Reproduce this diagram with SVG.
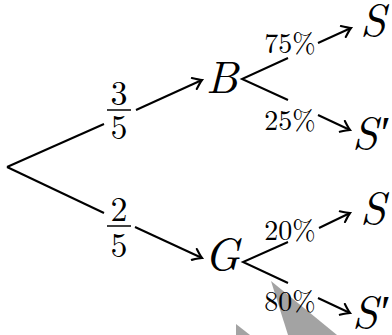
<svg xmlns="http://www.w3.org/2000/svg" width="392" height="335" viewBox="0 0 392 335">
  <style>
    .edge { stroke: #000; stroke-width: 2; fill: none; }
    .arrow { marker-end: url(#tip); }
    text { font-family: 'Latin Modern Roman', 'CMU Serif', 'Liberation Serif', 'DejaVu Serif', serif; fill: #000; text-anchor: middle; }
    .node { font-style: italic; font-size: 46px; }
    .frac { font-size: 34px; }
    .pct { font-size: 28px; }
    .bar { stroke: #000; stroke-width: 1.5; }
    .shade { fill: #a3a3a3; }
  </style>
  <defs>
    <marker id="tip" markerUnits="userSpaceOnUse" markerWidth="14" markerHeight="14" viewBox="-9 -7 11 14" refX="0" refY="0" orient="auto">
      <path d="M-8.5,-6 Q-2.5,-1.3 0,0 Q-2.5,1.3 -8.5,6" stroke="#000" stroke-width="2.1" fill="none" stroke-linecap="round"/>
    </marker>
  </defs>

  <rect width="392" height="335" fill="#fff"/>

  <!-- grey wedges at the bottom, under everything else -->
  <polygon class="shade" points="271,281 288,335 337,335"/>
  <polygon class="shade" points="236,324 236,335 250,335"/>

  <!-- connectors -->
  <g id="connectors">
    <!-- root to B, broken around its label -->
    <line class="edge" x1="7" y1="167" x2="104" y2="124"/>
    <line class="edge arrow" x1="136" y1="110" x2="202" y2="80"/>
    <!-- root to G -->
    <line class="edge" x1="7" y1="167" x2="104" y2="213"/>
    <line class="edge arrow" x1="135" y1="227" x2="202" y2="258"/>
    <!-- B splits -->
    <polyline class="edge" points="288,58 242,79 288,100"/>
    <line class="edge arrow" x1="318" y1="43" x2="351" y2="28"/>
    <line class="edge arrow" x1="318" y1="115" x2="350" y2="130"/>
    <!-- G splits -->
    <polyline class="edge" points="288,242 243,262 288,283"/>
    <line class="edge arrow" x1="319" y1="228" x2="350" y2="213"/>
    <line class="edge arrow" x1="318" y1="298" x2="350" y2="313"/>
  </g>

  <!-- edge labels -->
  <g id="label-3-5">
    <text class="frac" x="119" y="105">3</text>
    <line class="bar" x1="107" y1="110" x2="131" y2="110"/>
    <text class="frac" x="119" y="139">5</text>
  </g>
  <g id="label-2-5">
    <text class="frac" x="119" y="221">2</text>
    <line class="bar" x1="107" y1="226" x2="131" y2="226"/>
    <text class="frac" x="119" y="257">5</text>
  </g>
  <g id="label-75"><text class="pct" x="290" y="53">75%</text></g>
  <g id="label-25"><text class="pct" x="290" y="130">25%</text></g>
  <g id="label-20"><text class="pct" x="290" y="240">20%</text></g>
  <g id="label-80"><text class="pct" x="290" y="311">80%</text></g>

  <!-- nodes -->
  <g id="node-B"><text class="node" x="222" y="93">B</text></g>
  <g id="node-G"><text class="node" x="222" y="270">G</text></g>
  <g id="node-S1"><text class="node" x="373" y="36">S</text></g>
  <g id="node-S1p"><text class="node" x="370" y="149">S′</text></g>
  <g id="node-S2"><text class="node" x="373" y="224">S</text></g>
  <g id="node-S2p"><text class="node" x="370" y="328">S′</text></g>
</svg>
